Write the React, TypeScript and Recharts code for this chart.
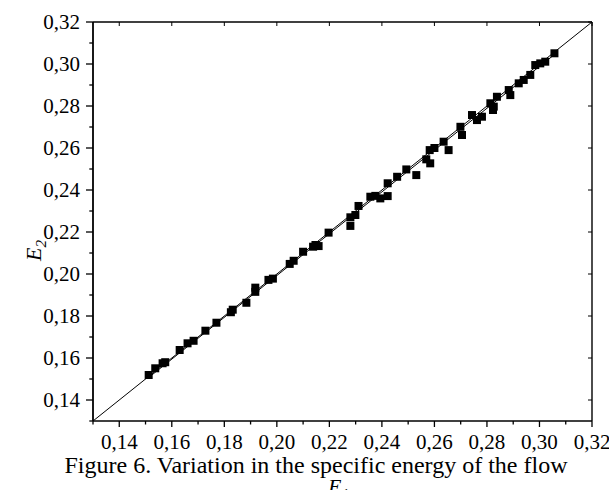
import { ScatterChart, Scatter, XAxis, YAxis, ZAxis, ReferenceLine } from 'recharts';

const E1 = [
  0.1512, 0.1537, 0.1565, 0.1575, 0.163, 0.166, 0.1683, 0.1728, 0.177, 0.1825,
  0.1832, 0.1884, 0.1918, 0.1918, 0.1968, 0.1985, 0.2049, 0.2064, 0.21, 0.2138,
  0.2147, 0.2159, 0.2197, 0.228, 0.228, 0.2299, 0.2311, 0.2356, 0.2375, 0.2394,
  0.2422, 0.2422, 0.2458, 0.2493, 0.2531, 0.2569, 0.2582, 0.2584, 0.26, 0.2635,
  0.2654, 0.2699, 0.2705, 0.2743, 0.2762, 0.2781, 0.2813, 0.2823, 0.2826, 0.2838,
  0.2883, 0.2889, 0.2921, 0.294, 0.2965, 0.2984, 0.3003, 0.3022, 0.3057,
];
const E2 = [
  0.1519, 0.1551, 0.1575, 0.158, 0.1638, 0.167, 0.1682, 0.173, 0.1768, 0.1818,
  0.183, 0.1863, 0.1915, 0.1935, 0.1972, 0.1978, 0.2048, 0.2063, 0.2106, 0.213,
  0.2138, 0.2133, 0.2197, 0.227, 0.2229, 0.2281, 0.2324, 0.2368, 0.2372, 0.236,
  0.2371, 0.2432, 0.2463, 0.2498, 0.2471, 0.2546, 0.259, 0.2527, 0.26, 0.263,
  0.259, 0.2701, 0.2662, 0.2757, 0.2733, 0.2749, 0.2813, 0.2781, 0.2797, 0.2844,
  0.2876, 0.2852, 0.2908, 0.2924, 0.2948, 0.2995, 0.3003, 0.3011, 0.3051,
];

const AXIS_TICKS = [
  0.13, 0.14, 0.15, 0.16, 0.17, 0.18, 0.19, 0.2, 0.21, 0.22, 0.23, 0.24, 0.25,
  0.26, 0.27, 0.28, 0.29, 0.3, 0.31, 0.32,
];
const DOMAIN: [number, number] = [0.13, 0.32];
const CAPTION = 'Figure 6. Variation in the specific energy of the flow';

const W = 609;
const H = 490;
const PLOT_LEFT = 93;
const PLOT_RIGHT = 592;
const PLOT_TOP = 22;
const PLOT_BOTTOM = 421;
const FONT = '"Liberation Serif", "Times New Roman", serif';

const data = E1.map((x, i) => ({ x, y: E2[i] }));

const isMajor = (v: number) => Math.round(v * 100) % 2 === 0;
const fmt = (v: number) => v.toFixed(2).replace('.', ',');

function XTick({ x, y, payload }: any) {
  const v = payload.value;
  const major = isMajor(v);
  return (
    <g>
      <line x1={x} x2={x} y1={y} y2={y + (major ? 6 : 3.5)} stroke="#000" strokeWidth={1.3} />
      {major && <line x1={x} x2={x} y1={PLOT_TOP} y2={PLOT_TOP + 4} stroke="#000" strokeWidth={1} />}
      {major && v > 0.135 && (
        <text x={x} y={y + 28} textAnchor="middle" fontSize={21} fontFamily={FONT} fill="#000">
          {fmt(v)}
        </text>
      )}
    </g>
  );
}

function YTick({ x, y, payload }: any) {
  const v = payload.value;
  const major = isMajor(v);
  return (
    <g>
      <line x1={x - (major ? 7 : 3.7)} x2={x} y1={y} y2={y} stroke="#000" strokeWidth={1.3} />
      {major && <line x1={PLOT_RIGHT - 4} x2={PLOT_RIGHT} y1={y} y2={y} stroke="#000" strokeWidth={1} />}
      {major && v > 0.135 && (
        <text x={x - 13} y={y + 7} textAnchor="end" fontSize={21} fontFamily={FONT} fill="#000">
          {fmt(v)}
        </text>
      )}
    </g>
  );
}

export default function App() {
  return (
    <div style={{ position: 'absolute', left: 0, top: 0, width: W, height: H, background: '#fff' }}>
      <ScatterChart
        width={W}
        height={H}
        margin={{ top: PLOT_TOP, right: W - PLOT_RIGHT, left: PLOT_LEFT - 60, bottom: H - PLOT_BOTTOM - 30 }}
      >
        <XAxis
          type="number"
          dataKey="x"
          domain={DOMAIN}
          ticks={AXIS_TICKS}
          interval={0}
          height={30}
          tickSize={0}
          tickMargin={0}
          tickLine={false}
          tick={<XTick />}
          axisLine={{ stroke: '#000', strokeWidth: 1.6 }}
          allowDataOverflow
        />
        <YAxis
          type="number"
          dataKey="y"
          domain={DOMAIN}
          ticks={AXIS_TICKS}
          interval={0}
          width={60}
          tickSize={0}
          tickMargin={0}
          tickLine={false}
          tick={<YTick />}
          axisLine={{ stroke: '#000', strokeWidth: 1.8 }}
          allowDataOverflow
        />
        <ZAxis range={[110, 110]} />
        <ReferenceLine y={0.32} stroke="#000" strokeWidth={1.4} />
        <ReferenceLine x={0.32} stroke="#000" strokeWidth={1.4} />
        <ReferenceLine
          segment={[{ x: 0.13, y: 0.13 }, { x: 0.32, y: 0.32 }]}
          stroke="#000"
          strokeWidth={1}
        />
        <ReferenceLine
          segment={[{ x: 0.151, y: 0.1505 }, { x: 0.306, y: 0.3048 }]}
          stroke="#000"
          strokeWidth={1}
        />
        <Scatter data={data} shape="square" fill="#000" isAnimationActive={false} />
      </ScatterChart>
      <svg
        width={W}
        height={H}
        style={{ position: 'absolute', left: 0, top: 0, pointerEvents: 'none' }}
      >
        <text x={316} y={473} textAnchor="middle" fontSize={24} fontFamily={FONT} fill="#000">
          {CAPTION}
        </text>
        <text x={328} y={494} fontSize={22} fontStyle="italic" fontFamily={FONT} fill="#000">
          E<tspan fontSize={15} dy={5}>1</tspan>
        </text>
        <text
          x={0}
          y={0}
          transform="translate(41,261) rotate(-90)"
          fontSize={22}
          fontStyle="italic"
          fontFamily={FONT}
          fill="#000"
        >
          E<tspan fontSize={15} dy={5}>2</tspan>
        </text>
      </svg>
    </div>
  );
}
